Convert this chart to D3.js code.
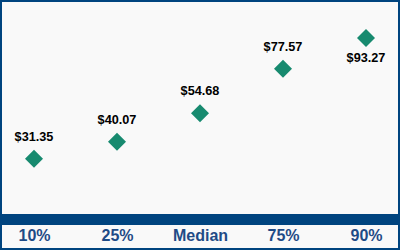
<!DOCTYPE html>
<html>
<head>
<meta charset="utf-8">
<script src="https://cdn.jsdelivr.net/npm/d3@7"></script>
<style>
  html, body { margin: 0; padding: 0; background: #fff; }
  svg { display: block; font-family: "Liberation Sans", Arial, sans-serif; }
</style>
</head>
<body>
<div id="chart"></div>
<script>
// percentile categories and values (dollars)
var categories = ["10%", "25%", "Median", "75%", "90%"];
var values = [31.35, 40.07, 54.68, 77.57, 93.27];
// which labels sit below the marker
var labelBelow = [false, false, false, false, true];

function init() {
    var w = 400;
    var h = 250;

    var svg = d3.select("#chart").append("svg")
        .attr("width", w)
        .attr("height", h);

    //background and frame
    svg.append("rect")
        .attr("x", 1).attr("y", 1)
        .attr("width", w - 2).attr("height", h - 2)
        .attr("fill", "#f9f9f9")
        .attr("stroke", "#00447f")
        .attr("stroke-width", 2);

    var xScale = d3.scalePoint()
        .domain(categories)
        .range([34, 366]);
    var yScale = d3.scaleLinear()
        .domain([0, 100])
        .range([220, 25]);

    //thick baseline bar
    svg.append("rect")
        .attr("x", 0)
        .attr("y", 214)
        .attr("width", w)
        .attr("height", 11)
        .attr("fill", "#00447f");

    //category axis
    var xAxis = svg.append("g")
        .attr("transform", "translate(0,225)")
        .call(d3.axisBottom(xScale).tickSize(0).tickPadding(5));
    xAxis.select(".domain").remove();
    xAxis.selectAll("text")
        .attr("fill", "#1f4b86")
        .style("font-size", "16px")
        .style("font-weight", "bold")
        .style("font-family", "'Liberation Sans', Arial, sans-serif");

    var data = categories.map((c, i) => ({ cat: c, val: values[i], below: labelBelow[i] }));

    var diamond = d3.symbol().type(d3.symbolSquare).size(162);

    svg.selectAll(".marker")
        .data(data)
        .enter()
        .append("path")
        .attr("class", "marker")
        .attr("d", diamond)
        .attr("transform", d => `translate(${xScale(d.cat)},${yScale(d.val)}) rotate(45)`)
        .attr("fill", "#178a6f");

    svg.selectAll(".val-label")
        .data(data)
        .enter()
        .append("text")
        .attr("class", "val-label")
        .attr("x", d => xScale(d.cat))
        .attr("y", d => yScale(d.val) + (d.below ? 24 : -18))
        .attr("text-anchor", "middle")
        .attr("fill", "#000")
        .style("font-size", "12.7px")
        .style("font-weight", "bold")
        .text(d => "$" + d3.format(".2f")(d.val));
}

window.onload = init;
</script>
</body>
</html>
